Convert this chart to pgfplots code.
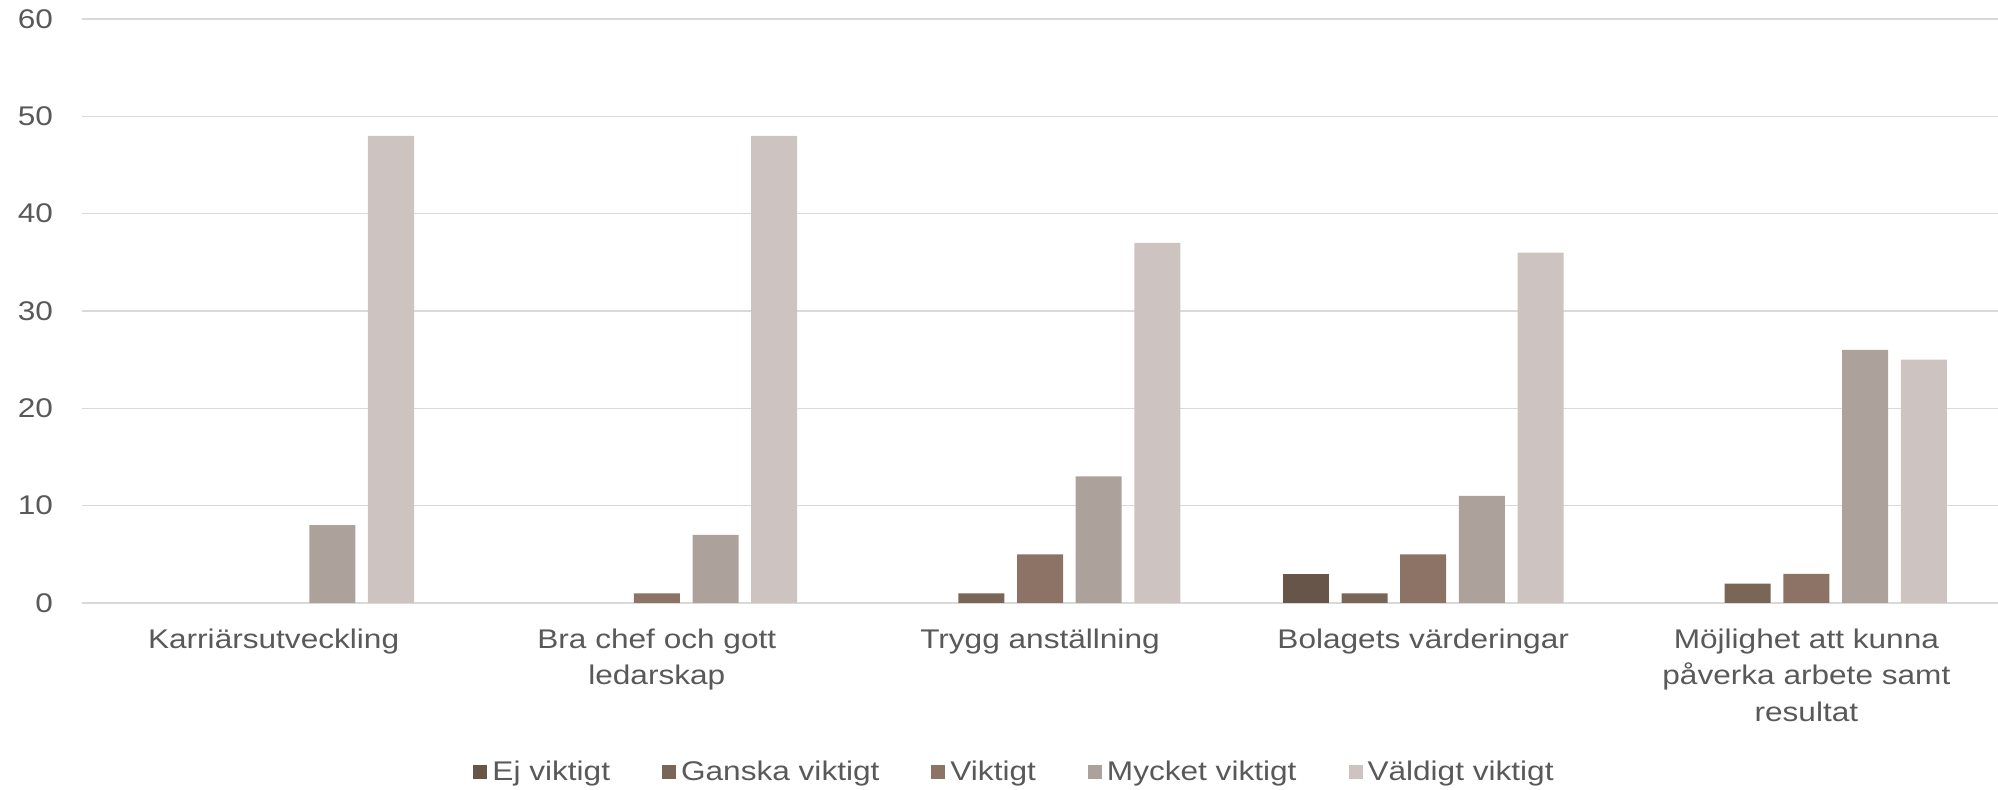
\documentclass[border=0pt]{standalone}
\usepackage{fontspec}
\setmainfont{Liberation Sans}[FakeStretch=1.17]
\usepackage{pgfplots}
\pgfplotsset{compat=1.18}
\definecolor{txt}{HTML}{595959}
\definecolor{grd}{HTML}{D9D9D9}
\definecolor{c1}{HTML}{67554A}
\definecolor{c2}{HTML}{7A6657}
\definecolor{c3}{HTML}{8C7366}
\definecolor{c4}{HTML}{ACA19B}
\definecolor{c5}{HTML}{CDC4C1}
\pgfplotsset{sqleg/.style={legend image code/.code={\fill[##1] (0pt,-3.5pt) rectangle (7pt,3.5pt);}}}
\begin{document}
\begin{tikzpicture}
\path[use as bounding box] (-41pt,-93.5pt) rectangle (958pt,301.5pt);
\begin{axis}[
  scale only axis,
  width=958pt, height=292pt,
  xmin=-0.5, xmax=4.5, ymin=0, ymax=60,
  ytick={0,10,...,60},
  xtick={0,1,2,3,4},
  xticklabels={Karriärsutveckling, {Bra chef och gott\\ledarskap}, Trygg anställning, Bolagets värderingar, {Möjlighet att kunna\\påverka arbete samt\\resultat}},
  ybar=6.35pt, bar width=23pt,
  major tick length=0pt,
  axis lines*=left,
  y axis line style={draw=none},
  x axis line style={draw=grd, line width=0.75pt},
  ymajorgrids, major grid style={draw=grd, line width=0.75pt},
  tick label style={font=\fontsize{13.5}{18.25}\selectfont, text=txt},
  /pgf/number format/assume math mode=true,
  yticklabel style={anchor=east, xshift=-11pt},
  xticklabel style={align=center, anchor=north, yshift=-9.3pt},
  y filter/.expression={y==0 ? nan : y},
  unbounded coords=discard,
  legend columns=5,
  legend style={draw=none, fill=none, at={(0.4875,-0.289)}, anchor=center,
    font=\fontsize{13.5}{16}\selectfont, text=txt,
    /tikz/every even column/.append style={column sep=23.5pt},
    /tikz/every odd column/.append style={column sep=0pt},
    nodes={inner xsep=2.5pt}},
  legend cell align=left,
]
\addplot[fill=c1, draw=none, sqleg] coordinates {(0,0) (1,0) (2,0) (3,3) (4,0)};
\addplot[fill=c2, draw=none, sqleg] coordinates {(0,0) (1,0) (2,1) (3,1) (4,2)};
\addplot[fill=c3, draw=none, sqleg] coordinates {(0,0) (1,1) (2,5) (3,5) (4,3)};
\addplot[fill=c4, draw=none, sqleg] coordinates {(0,8) (1,7) (2,13) (3,11) (4,26)};
\addplot[fill=c5, draw=none, sqleg] coordinates {(0,48) (1,48) (2,37) (3,36) (4,25)};
\legend{Ej viktigt, Ganska viktigt, Viktigt, Mycket viktigt, Väldigt viktigt}
\end{axis}
\end{tikzpicture}
\end{document}
